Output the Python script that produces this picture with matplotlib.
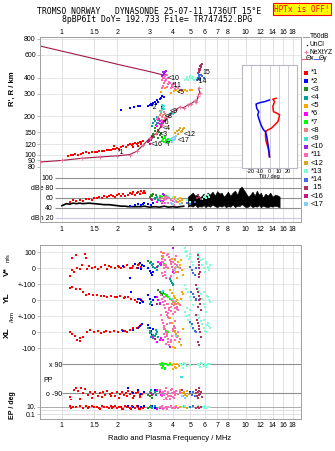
import matplotlib.pyplot as plt
from matplotlib.lines import Line2D
from matplotlib.ticker import NullLocator

plt.rcParams['font.family'] = ['Liberation Sans', 'DejaVu Sans']

# ---- echo names / colours ----
echo_names = ['*1', '*2', '<3', '<4', '<5', '*6', '*7', '<8', '<9', '<10',
              '*11', '<12', '*13', '*14', '15', '<16', '<17']
echo_colors = ['#ff0000', '#0000ff', '#228b22', '#00a0a0', '#ffa500', '#ff00ff',
               '#00ff00', '#f08080', '#40e0d0', '#a020f0', '#ff69b4', '#daa520',
               '#7fffd4', '#4169e1', '#b03060', '#c71585', '#87cefa']

freq_ticks = [1, 1.5, 2, 3, 4, 5, 6, 7, 8, 10, 12, 14, 16, 18]
freq_labels = ['1', '1.5', '2', '3', '4', '5', '6', '7', '8', '10', '12', '14', '16', '18']
h_ticks = [80, 90, 100, 120, 150, 200, 300, 400, 600, 800]

# ---- virtual height R' (MHz, km) ----
virt = {
    '*1': ([1.08, 1.12, 1.15, 1.18, 1.23, 1.27, 1.31, 1.36, 1.40, 1.45, 1.51, 1.55, 1.60, 1.65,
            1.70, 1.75, 1.80, 1.86, 1.90, 1.95, 2.00, 2.05, 2.11, 2.16, 2.22, 2.28, 2.34, 2.40,
            2.45, 2.50, 2.55, 2.60, 2.65, 2.71, 2.75, 2.45, 2.58, 2.68, 1.92],
           [98, 99, 99, 101, 100, 101, 103, 104, 102, 104, 104, 105, 106, 107, 106, 108, 109,
            108, 110, 111, 112, 111, 114, 116, 115, 118, 120, 119, 121, 123, 122, 124, 125,
            126, 128, 115, 117, 120, 116]),
    '*2': ([2.11, 2.36, 2.48, 2.59, 2.66, 2.95, 3.0, 3.05, 3.1, 3.15, 3.2, 3.25, 3.3, 3.35,
            3.4, 3.45, 3.5, 3.55, 3.52, 3.58],
           [223, 232, 236, 240, 238, 240, 245, 248, 243, 252, 259, 250, 265, 258, 270, 275,
            285, 230, 240, 280]),
    '<3': ([3.08, 3.12, 3.18, 3.22, 3.28, 3.32, 3.38, 3.42, 3.48, 3.52, 3.2, 3.35],
           [140, 146, 138, 152, 144, 157, 150, 142, 148, 138, 160, 135]),
    '<4': ([3.1, 3.15, 3.2, 3.25, 3.3, 3.35, 3.4, 3.18, 3.28, 3.45, 3.5],
           [168, 175, 182, 170, 178, 185, 172, 190, 195, 215, 230]),
    '<5': ([3.48, 3.63, 3.9, 4.05, 4.2, 4.35, 4.5, 4.65, 4.8, 4.95, 5.1],
           [310, 330, 305, 312, 318, 308, 315, 320, 312, 322, 318]),
    '*6': ([3.3, 3.35, 3.4, 3.45, 3.5, 3.55, 3.38, 3.48],
           [168, 175, 182, 170, 178, 184, 188, 165]),
    '*7': ([3.5, 3.55, 3.6, 3.65, 3.7, 3.75, 3.8, 3.85, 3.9, 3.95, 3.62, 3.78],
           [128, 132, 126, 135, 130, 128, 133, 127, 131, 126, 137, 124]),
    '<8': ([3.3, 3.35, 3.4, 3.45, 3.5, 3.55, 3.6, 3.65, 3.7, 3.42, 3.52, 3.62],
           [190, 198, 205, 212, 195, 202, 215, 208, 200, 220, 185, 192]),
    '<9': ([3.45, 3.5, 3.55, 3.6, 3.85, 3.9, 3.95, 4.0, 4.05, 3.52, 3.58],
           [215, 225, 235, 240, 205, 210, 215, 208, 212, 245, 228]),
    '<10': ([3.52, 3.56, 3.6, 3.64, 3.68, 3.55, 3.62],
            [410, 420, 430, 440, 450, 445, 415]),
    '*11': ([3.5, 3.55, 3.6, 3.65, 3.7, 3.75, 3.8, 3.85, 3.9, 3.95, 4.0, 4.1, 4.2, 4.3, 4.4,
             3.58, 3.68, 3.78, 3.88, 3.98, 4.08, 3.62, 3.72, 3.52, 3.57],
            [330, 345, 360, 375, 390, 340, 355, 370, 330, 350, 335, 325, 340, 330, 320, 400,
             385, 395, 365, 345, 355, 410, 420, 380, 395]),
    '<12': ([4.15, 4.25, 4.35, 4.45, 4.55, 4.62, 4.3, 4.5, 4.4],
            [148, 152, 156, 150, 158, 160, 145, 154, 162]),
    '*13': ([4.65, 4.75, 4.85, 4.95, 5.05, 5.15, 5.25, 5.35, 4.8, 5.0, 5.2],
            [380, 390, 385, 395, 400, 392, 385, 398, 405, 410, 402]),
    '*14': ([5.45, 5.5, 5.55, 5.6, 5.65, 5.7, 5.8, 5.9, 5.52, 5.62],
            [385, 395, 405, 415, 400, 420, 410, 395, 430, 380]),
    '15': ([5.55, 5.6, 5.62, 5.65, 5.68, 5.7, 5.72, 5.75, 5.6, 5.66],
           [440, 450, 460, 470, 480, 490, 500, 510, 465, 495]),
    '<16': ([2.93, 2.98, 3.03, 3.08, 3.12, 3.0, 3.06], [125, 128, 132, 135, 138, 122, 130]),
    '<17': ([3.85, 3.9, 3.95, 4.0, 4.05, 4.1, 4.15, 4.2, 3.98, 4.08],
            [128, 132, 135, 130, 138, 133, 136, 140, 126, 129]),
}

# echo labels written in the height panel (label, MHz, km)
echo_tags = [('*1', 2.02, 103), ('*2', 3.05, 232), ('<3', 3.4, 143), ('<4', 3.55, 160),
             ('<5', 4.22, 306), ('*6', 3.55, 178), ('*7', 3.63, 119), ('<8', 3.63, 197),
             ('<9', 3.86, 219), ('<10', 3.77, 395), ('*11', 3.96, 344), ('<12', 4.6, 143),
             ('*14', 5.42, 371), ('15', 5.84, 436), ('<16', 3.05, 119), ('<17', 4.27, 128)]

# real-height / model profiles
prof_f = [0.76, 1.0, 1.28, 1.61, 2.0, 2.34, 2.55, 2.76, 3.0, 3.27, 3.5, 3.75, 4.02, 4.2,
          4.38, 4.6, 4.86, 5.05, 5.28, 5.4, 5.5, 5.62, 5.55]
prof_h = [87.5, 90, 93.5, 95.8, 97.8, 100, 106, 118, 134, 147, 170, 195, 216, 225, 235,
          232, 245, 250, 262, 258, 285, 305, 330]
top_f = [0.76, 1.0, 1.5, 2.0, 3.0, 3.55]
top_h = [705, 643, 561, 508, 445, 419]

# tilt inset (deg, km)
tilt_x = [7.2, 3.6, 5.4, 3.6, 4.3, 7.2, 10.9, 10.1, 9.1, 5.4, 1.8, -1.8, -4.3, -4.3, -3.6,
          -1.8, -0.7, 0]
tilt_x_h = [275, 271, 259, 237, 216, 212, 204, 192, 181, 170, 160, 156, 151, 138, 126,
            115, 105, 96]
tilt_y = [0, -5.4, -10.9, -14.5, -13.8, -11.6, -12.7, -10.9, -9.1, -6.5, -4.3, -2.9, -1.8,
          -0.7, 0]
tilt_y_h = [267, 259, 254, 248, 230, 216, 204, 185, 170, 156, 151, 138, 122, 108, 96]

# ---- amplitude dBe ----
amp = {
    '*1': ([1.1, 1.15, 1.2, 1.25, 1.3, 1.35, 1.4, 1.45, 1.5, 1.55, 1.6, 1.65, 1.7, 1.75, 1.8,
            1.85, 1.9, 1.95, 2.0, 2.05, 2.1, 2.15, 2.2, 2.3, 2.35, 2.4, 2.45, 2.5, 2.55, 2.6,
            2.65, 2.7, 2.75, 2.8, 2.85],
           [52, 55, 53, 56, 54, 57, 58, 56, 60, 59, 62, 60, 63, 61, 64, 66, 63, 62, 65, 67, 64,
            68, 63, 66, 70, 67, 71, 65, 69, 72, 68, 73, 70, 74, 69]),
    '*2': ([2.35, 2.5, 2.6, 2.7, 2.75, 2.8, 2.95, 3.05, 3.15], [44, 46, 48, 45, 47, 50, 47, 45, 49]),
    '<3': ([3.0, 3.05, 3.1, 3.15, 3.2, 3.25], [62, 66, 64, 68, 60, 65]),
    '<4': ([3.1, 3.2, 3.3, 3.35, 3.4, 3.45], [55, 58, 62, 56, 60, 53]),
    '<5': ([4.0, 4.1, 4.2, 4.3, 4.4, 4.5], [60, 62, 58, 57, 60, 56]),
    '*6': ([3.3, 3.4, 3.5, 3.55], [52, 56, 50, 54]),
    '*7': ([3.4, 3.5, 3.6, 3.7], [64, 62, 66, 63]),
    '<8': ([3.4, 3.5, 3.6, 3.65], [58, 60, 56, 62]),
    '<9': ([3.6, 3.7, 3.8, 3.9], [65, 60, 62, 58]),
    '<10': ([3.55, 3.6], [68, 66]),
    '*11': ([3.5, 3.6, 3.7, 3.8, 3.9, 4.0, 4.1, 4.2, 3.65, 3.85, 3.95, 3.75, 4.05],
            [52, 55, 58, 50, 56, 54, 58, 51, 50, 60, 48, 62, 46]),
    '<12': ([4.2, 4.3, 4.4, 4.5], [55, 52, 54, 50]),
    '*13': ([4.0, 4.2, 4.8, 5.0, 5.8, 5.9, 6.0, 6.1, 6.2, 6.3], [62, 58, 55, 52, 58, 62, 64, 60, 66, 62]),
    '*14': ([4.8, 5.0, 5.3], [50, 48, 52]),
    '15': ([5.45, 5.5, 5.6, 5.7], [60, 66, 62, 58]),
    '<16': ([3.05, 3.1], [58, 56]),
    '<17': ([3.9, 4.0, 4.1, 4.4], [50, 48, 52, 48]),
}
noise_f = [1.0, 1.03, 1.06, 1.1, 1.15, 1.2, 1.25, 1.3, 1.4, 1.5, 1.6, 1.7, 1.8, 1.9, 2.0, 2.1,
           2.2, 2.3, 2.4, 2.5, 2.6, 2.7, 2.8, 2.9, 3.0, 3.2, 3.4, 3.6, 3.8, 4.0, 4.2, 4.4, 4.6]
noise_db = [44, 46, 48, 47, 49, 48, 49, 48, 49, 48, 47, 46, 46, 45, 44, 43, 43, 42, 42, 42, 42,
            42, 43, 42, 41, 42, 41, 43, 41, 42, 41, 42, 43]
band_f = [4.85, 5.0, 5.15, 5.3, 5.45, 5.6, 5.75, 5.9, 6.05, 6.2, 6.4, 6.6, 6.8, 7.0, 7.2, 7.4,
          7.6, 7.8, 8.0, 8.25, 8.5, 8.75, 9.0, 9.25, 9.5, 9.75, 10.0, 10.3, 10.6, 10.9, 11.2,
          11.5, 11.8, 12.1, 12.4, 12.8, 13.2, 13.6, 14.0, 14.5, 15.0, 15.3]
band_top = [62, 66, 70, 64, 66, 60, 63, 68, 62, 70, 66, 72, 64, 73, 68, 70, 62, 66, 72, 64, 70,
            74, 66, 78, 82, 76, 70, 62, 66, 72, 64, 74, 66, 70, 60, 68, 64, 70, 62, 66, 64, 62]
band_bot = [42, 44, 42, 46, 41, 43, 42, 45, 41, 44, 42, 46, 43, 41, 44, 42, 45, 41, 43, 42, 46,
            41, 44, 43, 47, 44, 41, 42, 45, 41, 43, 42, 45, 41, 44, 42, 41, 43, 42, 44, 42, 41]

# ---- velocities V*, YL, XL (m/s, km) ----
vstar = {
    '*1': ([1.10, 1.13, 1.14, 1.16, 1.19, 1.21, 1.25, 1.28, 1.33, 1.36, 1.37, 1.41, 1.45, 1.51,
            1.57, 1.64, 1.71, 1.75, 1.86, 1.94, 2.02, 2.11, 2.17, 2.25, 2.34, 2.44, 2.55, 2.63,
            2.71, 1.8, 2.05, 2.4, 2.6],
           [-46, 62, -11, -25, 83, 4, -4, 21, 87, 66, -4, 16, 0, 10, -4, 10, 21, -4, 10, 4, 16,
            0, 10, 21, 4, 16, 0, 25, 10, 14, 8, 4, 18]),
    '*2': ([2.15, 2.36, 2.49, 2.6, 2.65, 2.74, 2.71, 2.8, 2.95, 3.0, 3.05, 3.1, 3.14],
           [16, -58, 25, 4, 31, 21, -4, 12, 0, -15, -30, -42, -20]),
    '<3': ([2.95, 3.0, 3.05, 3.4, 3.45], [46, 31, 40, 30, 20]),
    '<4': ([3.0, 3.08, 3.15, 3.22, 3.3, 3.34, 3.12], [31, 20, 10, 0, -10, 15, 25]),
    '*6': ([3.34, 3.4, 3.45, 3.48, 4.0], [42, 30, 21, 35, -20]),
    '*7': ([3.5, 3.6], [40, 30]),
    '<8': ([3.7, 3.8, 3.9], [20, 0, 40]),
    '<9': ([3.5, 3.55], [60, 80]),
    '<10': ([4.0], [129]),
    '*11': ([3.48, 3.5, 3.52, 3.55, 3.58, 3.6, 3.62, 3.65, 3.68, 3.7, 3.78, 3.82, 3.86, 3.9,
             3.95, 4.0, 4.05, 4.1, 4.15, 4.2, 4.25, 4.3, 4.38, 3.56, 3.64, 3.72, 3.92, 4.02,
             4.12, 3.6, 3.5, 3.88],
            [104, 80, 60, 40, 20, 0, -20, -40, -63, 10, 90, 70, 50, 30, 10, -10, -30, 30, 60,
             80, 20, -20, 0, -50, 50, 85, -45, 40, -5, 95, -30, -60]),
    '<5': ([3.55, 3.95, 4.0, 4.1, 4.2, 4.3, 4.4, 4.5, 4.57, 4.25, 4.45],
           [93, 60, 40, 0, -20, 40, 20, -10, -40, -63, 55]),
    '<12': ([3.55, 4.1, 4.3], [73, 50, 10]),
    '*13': ([4.66, 4.7, 4.8, 4.9, 5.0, 5.1, 5.17, 5.5, 5.6, 5.7, 5.8, 5.9, 6.0, 6.1, 6.2, 6.3,
             6.37, 4.75, 4.95, 5.85, 6.05, 6.25],
            [125, 100, 80, 60, 90, 40, 21, 94, 70, 50, 20, 0, -21, 30, 10, -10, 20, 110, 70,
             60, 40, 5]),
    '*14': ([4.96, 5.1, 5.2, 5.3, 5.4], [10, -10, -30, -42, 0]),
    '15': ([5.5, 5.52, 5.55, 5.58, 5.6, 5.62, 5.55, 5.58], [83, 60, 40, 20, 0, -20, -52, -35]),
    '<16': ([3.3], [10]),
    '<17': ([4.1, 4.2], [-10, 10]),
}
ylat = {
    '*1': ([1.105, 1.14, 1.19, 1.25, 1.31, 1.35, 1.41, 1.48, 1.56, 1.64, 1.75, 1.86, 1.94, 2.07,
            2.17, 2.29, 2.39, 2.49, 2.56, 2.65, 2.74, 1.7, 2.0, 2.2],
           [77, 83, 73, 69, 52, 36, 42, 31, 36, 27, 21, 27, 19, 27, 15, 21, 11, 0, -10, 6, -6,
            30, 22, 18]),
    '*2': ([2.39, 2.6, 2.71, 2.77, 2.65, 2.95, 3.0, 3.05, 3.1, 3.15, 3.2],
           [52, 11, 0, -10, -15, 31, 10, -10, -31, 0, 20]),
    '<3': ([3.34, 3.4, 3.45, 3.5, 3.55], [62, 50, 40, 31, 45]),
    '<4': ([3.86, 3.9, 3.95, 4.0, 4.03, 3.0, 3.05], [135, 120, 110, 100, 94, -20, -10]),
    '*6': ([3.3, 3.35, 3.4], [20, 0, -15]),
    '*7': ([3.63, 3.7, 3.78, 3.86, 3.95, 3.75], [42, 30, 20, 10, 0, 35]),
    '<8': ([3.6, 3.8], [-30, -20]),
    '<9': ([3.5, 3.55], [50, 60]),
    '<10': ([3.4], [-20]),
    '*11': ([3.48, 3.52, 3.56, 3.6, 3.64, 3.68, 3.72, 3.76, 3.8, 3.85, 3.9, 3.95, 4.0, 4.05,
             4.1, 4.15, 4.2, 4.25, 4.3, 4.38, 3.58, 3.66, 3.74, 3.82, 3.92, 4.02, 4.12, 4.22],
            [31, 10, -10, -30, -50, -70, -90, -104, -80, -60, -40, -20, 0, -30, -50, -70, -20,
             -40, -60, -30, 20, -5, -25, -45, -65, -85, -10, -55]),
    '<5': ([3.86, 3.95, 4.05, 4.15, 4.25, 4.35, 4.45, 4.57, 4.5], [62, 45, 30, 15, 0, -21, 10, 40, 55]),
    '<12': ([4.0, 4.1, 4.2, 4.3], [-10, -20, -5, -15]),
    '*13': ([4.66, 4.75, 4.85, 4.95, 5.05, 5.15, 5.5, 5.6, 5.7, 5.8, 5.9, 6.0, 6.1, 6.2, 6.3,
             6.37, 4.8, 5.0, 5.95, 6.15],
            [94, 70, 50, 20, 0, -30, 80, 60, 40, 10, -20, -40, -73, 20, 0, -10, -50, -60, 50, 30]),
    '*14': ([5.07, 5.15, 5.25, 5.35, 5.4], [52, 40, 20, 10, 0]),
    '15': ([5.4, 5.45, 5.5, 5.55, 5.6, 5.65, 5.7, 5.52, 5.62], [94, 70, 50, 30, 0, -20, -62, -40, 10]),
    '<16': ([3.3], [-20]),
    '<17': ([4.0, 4.1], [10, -5]),
}
xlat = {
    '*1': ([1.105, 1.14, 1.18, 1.21, 1.26, 1.31, 1.37, 1.42, 1.49, 1.57, 1.64, 1.73, 1.82, 1.92,
            2.02, 2.13, 2.25, 2.36, 2.44, 2.55, 2.63, 2.71, 1.7, 2.2, 1.25],
           [0, -12, -21, -48, -37, -27, 0, 15, 0, 8, -6, 8, 0, 8, 0, 15, 4, 15, 25, 29, 35, 46,
            2, 10, -55]),
    '*2': ([2.15, 2.44, 2.6, 2.65, 2.74, 2.95, 3.0, 3.05, 3.1, 3.14],
           [8, 15, 25, 42, 50, 46, 30, 10, -17, 20]),
    '<3': ([3.0, 3.1], [-5, -20]),
    '<4': ([2.95, 3.0, 3.05, 3.1, 3.15, 3.2, 3.25, 3.3, 3.34, 3.05, 3.15, 3.25],
           [25, 10, -5, -20, -38, -25, -10, 5, -30, -30, -15, 15]),
    '*6': ([3.14, 3.2, 3.3, 3.4, 3.48, 3.55], [-27, -40, -58, -45, -35, -50]),
    '*7': ([3.6, 3.7, 3.8], [20, 10, 0]),
    '<8': ([3.6, 3.75], [30, -10]),
    '<10': ([3.86], [-90]),
    '*11': ([3.48, 3.52, 3.56, 3.6, 3.64, 3.68, 3.72, 3.76, 3.8, 3.85, 3.9, 3.95, 4.0, 4.05,
             4.1, 4.15, 4.2, 4.25, 4.3, 4.38, 3.58, 3.66, 3.74, 3.82, 3.92, 4.02, 4.12, 3.7, 3.88],
            [108, 80, 60, 40, 20, 0, -20, -40, -60, -79, -50, -20, 10, 40, 70, 30, -10, -30, 0,
             -40, -10, -30, 50, 90, -60, 20, -50, -70, 60]),
    '<5': ([3.86, 3.95, 4.05, 4.15, 4.25, 4.35, 4.45, 4.57, 4.03, 4.1],
           [87, 60, 30, 0, -30, -60, -79, 20, -90, -95]),
    '<12': ([4.1, 4.2, 4.3], [10, -10, -20]),
    '*13': ([4.66, 4.75, 4.85, 4.95, 5.05, 5.15, 5.5, 5.6, 5.7, 5.8, 5.9, 6.0, 6.1, 6.2, 6.3,
             6.37, 4.9, 5.95, 6.15],
            [129, 100, 80, 60, 40, 20, 110, 90, 70, 50, 30, 10, 4, 60, 40, 25, 110, 80, 45]),
    '*14': ([5.0, 5.1, 5.2, 5.3, 5.4], [66, 50, 30, 10, 4]),
    '15': ([5.4, 5.45, 5.5, 5.55, 5.6, 5.65, 5.7, 5.52, 5.58], [108, 80, 60, 40, 20, 0, -30, -60, -79]),
    '<16': ([3.2], [-40]),
    '<17': ([4.2], [-20]),
}

# ---- polarisation PP (deg) and EP (deg) ----
pol = {
    '*1': ([1.1, 1.12, 1.16, 1.2, 1.23, 1.27, 1.3, 1.34, 1.38, 1.42, 1.47, 1.52, 1.57, 1.62,
            1.67, 1.72, 1.77, 1.82, 1.88, 1.94, 2.0, 2.06, 2.12, 2.18, 2.24, 2.3, 2.36, 2.42,
            2.48, 2.54, 2.6, 2.66, 2.72, 2.78, 1.25, 1.45, 1.65, 1.85, 2.05, 2.25, 2.45, 2.65],
           [-115, -130, -70, -60, -75, -60, -90, -65, -100, -85, -95, -80, -110, -90, -85, -100,
            -75, -95, -90, -105, -80, -95, -85, -100, -90, -75, -95, -85, -110, -90, -80, -100,
            -95, -85, -125, -120, -115, -110, -118, -108, -120, -112]),
    '*2': ([2.3, 2.45, 2.6, 2.7, 2.8, 3.2, 3.3, 3.4, 5.0], [-60, -90, -70, -95, -80, -70, -75, -85, -80]),
    '<3': ([2.95, 3.0, 3.05, 3.1], [-100, -110, -90, -120]),
    '<4': ([3.0, 3.05, 3.15, 3.2, 3.25, 3.3], [-80, -70, -95, -85, -100, -75]),
    '*6': ([3.3, 3.4, 3.45], [-70, -85, -100]),
    '*7': ([3.41, 3.45, 3.5, 3.55, 3.6, 3.65, 3.7, 3.78, 3.86, 3.5, 3.62],
           [95, 85, 100, 80, 90, 70, 95, 85, 90, 65, 60]),
    '<9': ([4.42, 4.52], [14, 10]),
    '<10': ([4.5], [-70]),
    '*11': ([3.4, 3.45, 3.5, 3.55, 3.6, 3.65, 3.7, 3.75, 3.8, 3.85, 3.9, 3.95, 4.0, 4.05, 4.1,
             4.15, 4.2, 4.3, 4.4, 3.58, 3.68, 3.78, 3.88, 3.98, 4.08, 3.52, 3.72, 3.92],
            [-70, -90, -110, -80, -100, -75, -120, -95, -85, -105, -70, -90, -115, -80, -100,
             -90, -75, -95, -85, -130, -60, -110, -125, -65, -120, -100, -130, -105]),
    '<5': ([3.86, 3.95, 4.05, 4.15, 4.25, 4.35, 4.47, 4.0, 4.2, 4.4, 4.5, 4.6, 4.7, 4.8, 4.9, 4.55],
           [100, 85, 95, 75, 90, 80, 95, 60, 70, -70, -90, -80, -100, -75, -95, -110]),
    '<12': ([4.6, 4.7, 4.8], [-85, -95, -105]),
    '*13': ([4.38, 4.5, 4.6, 4.7, 4.8, 4.96, 5.5, 5.6, 5.7, 5.8, 5.9, 6.0, 6.1, 6.2, 6.37, 4.55,
             5.65, 6.05],
            [95, 85, 100, 90, 80, 88, 95, 85, 100, 90, 80, 95, 85, 90, 92, 70, 72, 75]),
    '*14': ([5.0, 5.1, 5.2, 5.3], [-90, -100, -80, -110]),
    '15': ([5.35, 5.4, 5.45, 5.5, 5.55, 5.6, 5.65, 5.7, 5.75, 5.5, 5.6],
           [-70, -90, -110, -80, -100, -75, -95, -85, -115, -120, -60]),
    '<16': ([3.05, 3.1], [-90, -100]),
    '<17': ([4.5, 4.7], [-110, -120]),
}
ellip = {
    '*1': ([1.1, 1.15, 1.2, 1.25, 1.3, 1.35, 1.4, 1.45, 1.5, 1.55, 1.6, 1.65, 1.7, 1.75, 1.8,
            1.85, 1.9, 1.95, 2.0, 2.05, 2.1, 2.15, 2.2, 2.25, 2.3, 2.35, 2.4, 2.45, 2.5, 2.55,
            2.6, 2.65, 2.7, 2.75, 2.8, 1.12, 1.38, 1.62, 1.88, 2.12, 2.38, 2.62],
           [20, 8, 10, 15, 6, 12, 9, 18, 7, 11, 5, 14, 8, 10, 4, 12, 9, 16, 6, 11, 8, 3, 13, 7,
            10, 5, 12, 9, 4, 14, 8, 3, 11, 6, 9, 4, 5, 3, 4, 3, 2.5, 2]),
    '*2': ([2.3, 2.45, 2.6, 2.7, 2.8, 3.1, 3.2], [20, 10, 15, 8, 12, 20, 6]),
    '<3': ([2.95, 3.0, 3.05], [5, 10, 15]),
    '<4': ([3.05, 3.1, 3.2, 3.3], [8, 4, 12, 6]),
    '*6': ([3.3, 3.4], [3, 5]),
    '*11': ([3.4, 3.5, 3.6, 3.7, 3.8, 3.9, 4.0, 4.1, 4.2, 4.3, 3.55, 3.75, 3.95, 4.15],
            [8, 12, 5, 10, 7, 14, 6, 9, 11, 4, 3, 3, 4, 5]),
    '<5': ([4.2, 4.4, 4.6, 4.8], [12, 8, 15, 6]),
    '<12': ([4.6, 4.8], [9, 5]),
    '*13': ([4.5, 4.7, 4.9, 5.5, 5.8, 6.0, 6.2, 6.35, 5.9, 6.1], [10, 14, 8, 12, 9, 15, 7, 11, 4, 5]),
    '*14': ([5.0, 5.2], [8, 12]),
    '15': ([5.4, 5.5, 5.6, 5.7], [6, 10, 4, 8]),
}

# ---------------------------------------------------------------
W, H = 335, 451
fig = plt.figure(figsize=(W / 100, H / 100), dpi=100)
SPINE = '#a0a0a0'
GRID = '#dcdcdc'
FS = 5
MS = 1.7
colour = dict(zip(echo_names, echo_colors))


def axes_px(top, bottom, left=40, right=301):
    return fig.add_axes([left / W, 1 - bottom / H, (right - left) / W, (bottom - top) / H])


def fpx(x, y):
    return x / W, 1 - y / H


def freq_axis(ax):
    ax.set_xscale('log')
    ax.set_xlim(0.76, 20)
    ax.set_xticks(freq_ticks, freq_labels)
    ax.xaxis.set_minor_locator(NullLocator())
    ax.tick_params(axis='x', length=0, labelsize=FS, labelbottom=False)
    for f in freq_ticks:
        ax.axvline(f, color=GRID, lw=0.6, zorder=0)
    for s in ax.spines.values():
        s.set_color(SPINE)
        s.set_linewidth(0.7)


def scatter_echoes(ax, table, offset=0):
    for name in echo_names:
        if name in table:
            fx, vy = table[name]
            ax.plot(fx, [v + offset for v in vy], 's', color=colour[name], ms=MS, mew=0, zorder=3)


# --- height panel ---
ax_h = axes_px(37, 173)
freq_axis(ax_h)
ax_h.tick_params(axis='x', labeltop=True, pad=0.5)
ax_h.set_yscale('log')
ax_h.set_ylim(71.8, 829)
ax_h.set_yticks(h_ticks, [str(t) for t in h_ticks])
ax_h.yaxis.set_minor_locator(NullLocator())
ax_h.tick_params(axis='y', length=2, width=0.5, color=SPINE, labelsize=FS, pad=1)
for t in h_ticks:
    ax_h.axhline(t, color=GRID, lw=0.5, zorder=0)
ax_h.spines['bottom'].set_visible(False)
ax_h.plot(top_f, top_h, color='#a01848', lw=0.8, zorder=2)
ax_h.plot(prof_f, prof_h, color='#a01848', lw=0.8, marker='+', ms=2.5, mew=0.6,
          mec='#e87098', zorder=4)
scatter_echoes(ax_h, virt)
for name, f, h in echo_tags:
    ax_h.text(f, h, name, fontsize=5, ha='left', va='center', zorder=6)

# tilt inset
ax_in = fig.add_axes([241.7 / W, 1 - 168 / H, 55.6 / W, 103 / H])
ax_in.set_zorder(10)
ax_in.set_xlim(-30, 30)
ax_in.set_yscale('log')
ax_in.set_ylim(78.5, 501)
ax_in.set_yticks([])
ax_in.yaxis.set_minor_locator(NullLocator())
ax_in.set_xticks([-20, -10, 0, 10, 20], ['-20', '-10', '0', '10', '20'])
ax_in.tick_params(axis='x', length=0, labelsize=4, pad=0.5)
ax_in.set_xlabel('Tilt / deg', fontsize=4, labelpad=0)
for t in [-20, -10, 0, 10, 20]:
    ax_in.axvline(t, color='#c8c8d0', lw=0.6, zorder=0)
for s in ax_in.spines.values():
    s.set_color('#b8b8c8')
    s.set_linewidth(0.8)
ax_in.plot(tilt_x, tilt_x_h, color='#ff0000', lw=1.1)
ax_in.plot(tilt_y, tilt_y_h, color='#0000ff', lw=1.1)

# --- amplitude panel ---
ax_d = axes_px(173, 222)
freq_axis(ax_d)
ax_d.tick_params(axis='x', labelbottom=True, pad=3)
ax_d.set_ylim(11.5, 109)
ax_d.set_yticks([20, 40, 60, 80, 100], ['dBn 20', '40', '60', 'dBe 80', '100'])
ax_d.tick_params(axis='y', length=0, labelsize=FS, pad=-9.4)
ax_d.spines['top'].set_visible(False)
ax_d.hlines([40, 60, 80, 100], 0.92, 20, color='#909090', lw=0.8, zorder=1)
ax_d.hlines([20], 0.92, 20, color='#c8c8e8', lw=0.8, zorder=1)
ax_d.fill_between(band_f, band_bot, band_top, color='black', lw=0.4, zorder=2)
ax_d.plot(noise_f, noise_db, color='black', lw=1.2, zorder=2)
scatter_echoes(ax_d, amp)

# --- velocity panel (V* +400, YL +200, XL) ---
ax_v = axes_px(245, 352)
freq_axis(ax_v)
ax_v.set_ylim(-123, 546)
v_ticks = [-100, 0, 100, 200, 300, 400, 500]
ax_v.set_yticks(v_ticks, ['-100', '0', '+-100', '0', '+-100', '0', '100'])
ax_v.tick_params(axis='y', length=2, width=0.5, color=SPINE, labelsize=FS, pad=1)
for t in v_ticks:
    ax_v.axhline(t, color=GRID, lw=0.5, zorder=0)
ax_v.spines['bottom'].set_visible(False)
scatter_echoes(ax_v, vstar, 400)
scatter_echoes(ax_v, ylat, 200)
scatter_echoes(ax_v, xlat, 0)

# --- PP panel ---
ax_p = axes_px(352, 400)
freq_axis(ax_p)
ax_p.set_ylim(-132, 168)
ax_p.set_yticks([90, -90], ['x 90', 'o -90'])
ax_p.tick_params(axis='y', length=0, labelsize=FS, pad=-15.8)
ax_p.spines['top'].set_visible(False)
ax_p.spines['bottom'].set_visible(False)
ax_p.hlines([90, -90], 1.0, 20, color='#909090', lw=0.8, zorder=1)
scatter_echoes(ax_p, pol)

# --- EP panel ---
ax_e = axes_px(400, 419)
freq_axis(ax_e)
ax_e.tick_params(axis='x', labelbottom=True, pad=2)
ax_e.set_yscale('log')
ax_e.set_ylim(10 ** -2.24, 10 ** 2.76)
ax_e.set_yticks([10, 0.1], ['10.', '0.1'])
ax_e.yaxis.set_minor_locator(NullLocator())
ax_e.tick_params(axis='y', length=2, width=0.5, color=SPINE, labelsize=FS, pad=1)
ax_e.spines['top'].set_visible(False)
ax_e.axhline(10, color='#a0a0a0', lw=0.6, zorder=1)
ax_e.axhline(1, color=GRID, lw=0.6, zorder=1)
ax_e.axhline(0.1, color=GRID, lw=0.6, zorder=1)
scatter_echoes(ax_e, ellip)

# --- side labels ---
bold = dict(fontweight='bold', ha='center', va='center', rotation=90)
fig.text(*fpx(12, 89), "R', R / km", fontsize=5.5, **bold)
fig.text(*fpx(7, 272), 'V*', fontsize=6, **bold)
fig.text(*fpx(8, 258), 'm/s', fontsize=4, ha='center', va='center', rotation=90)
fig.text(*fpx(7, 298), 'YL', fontsize=6, **bold)
fig.text(*fpx(12, 317), '/km', fontsize=4.5, ha='center', va='center', rotation=90)
fig.text(*fpx(7, 333), 'XL', fontsize=6, **bold)
fig.text(*fpx(12, 405), 'EP / deg', fontsize=5, **bold)
fig.text(*fpx(43, 380), 'PP', fontsize=FS, ha='left', va='center')
fig.text(*fpx(170, 439), 'Radio and Plasma Frequency / MHz', fontsize=5.5, ha='center', va='center')

# --- header ---
mono = ['DejaVu Sans Mono']
fig.text(*fpx(149, 12), 'TROMSO NORWAY   DYNASONDE 25-07-11 1736UT 15\u00b0E',
         family=mono, fontsize=5.9, ha='center', va='center')
fig.text(*fpx(157, 20), '8pBP6It DoY= 192.733 File= TR747452.BPG',
         family=mono, fontsize=5.9, ha='center', va='center')
fig.text(*fpx(302, 9), 'HPTx is OFF!', family=mono, fontsize=5.5, color='red',
         ha='center', va='center',
         bbox=dict(facecolor='#ffff00', edgecolor='red', lw=0.8, pad=0.8))

# --- legend column ---
def fig_line(xs, ys, **kw):
    fig.add_artist(Line2D([x / W for x in xs], [1 - y / H for y in ys],
                          transform=fig.transFigure, **kw))


fig_line([303, 309], [37, 37], color='#a0a0a0', lw=0.8)
fig.text(*fpx(310, 37), 'T60dB', fontsize=4.8, va='center')
fig_line([307], [45], marker='s', ms=0.9, color='black', mew=0, ls='none')
fig.text(*fpx(310, 45), 'UnCl', fontsize=4.8, va='center')
fig_line([306], [52], marker='+', ms=3, color='#e87098', mew=0.6, ls='none')
fig.text(*fpx(309, 52), 'NeXtYZ', fontsize=4.8, va='center')
fig_line([302, 306], [59, 59], color='#e06070', lw=0.8)
fig.text(*fpx(306, 59), '\u0398x', fontsize=4.8, va='center')
fig_line([314, 319], [59, 59], color='#6060ff', lw=0.8)
fig.text(*fpx(319, 59), '\u0398y', fontsize=4.8, va='center')
for i, (name, col) in enumerate(zip(echo_names, echo_colors)):
    y = 73 + i * 8.2
    fig_line([306], [y], marker='s', ms=2.6, color=col, mew=0, ls='none')
    shown = name if name[0] in '*<' else ' ' + name
    fig.text(*fpx(311, y), shown, fontsize=5.5, va='center')

fig.savefig('out.png', dpi=100)
